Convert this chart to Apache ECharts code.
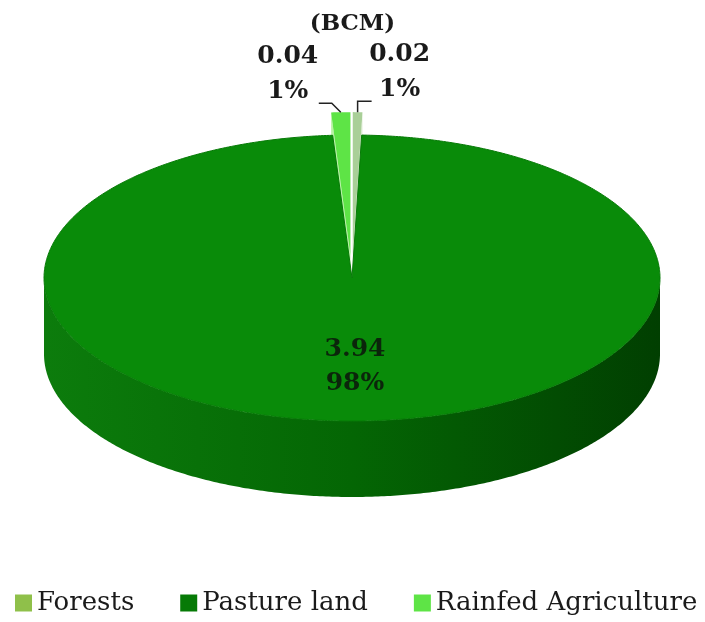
<!DOCTYPE html>
<html>
<head>
<meta charset="utf-8">
<script src="https://cdn.jsdelivr.net/npm/echarts@6/dist/echarts.min.js"></script>
<style>
html,body{margin:0;padding:0;background:#fff;}
#chart{width:705px;height:622px;}
</style>
</head>
<body>
<div id="chart"></div>
<script>
// data
var categories = ['Forests', 'Pasture land', 'Rainfed Agriculture'];
var values = [0.02, 3.94, 0.04];
var percents = [1, 98, 1];
var exploded = [true, false, true];

// look of the fake 3d pie
var cx = 352, cy = 278, rx = 308, ry = 143, depth = 76, explode = 0.16;
var topColors = ['#a9cf98', '#098b09', '#5ee446'];
var wallColors = ['#dcebd2', '#066c06', '#b9f3a6'];
var legendColors = ['#8fc04a', '#067a06', '#5ee446'];
var font = '"DejaVu Serif", serif';

var total = 0;
for (var k = 0; k < values.length; k++) total += values[k];

function startOf(i) {
	var s = 0;
	for (var j = 0; j < i; j++) s += values[j];
	return s / total * Math.PI * 2;
}

function makeRender(i) {
	return function (params, api) {
		var v = api.value(0);
		var a0 = startOf(i), a1 = a0 + v / total * Math.PI * 2;
		var mid = (a0 + a1) / 2;
		var ox = exploded[i] ? Math.sin(mid) * explode * rx : 0;
		var oy = exploded[i] ? -Math.cos(mid) * explode * ry : 0;
		function pt(t, dy, f) {
			f = f == undefined ? 1 : f;
			return [cx + ox + f * rx * Math.sin(t), cy + oy - f * ry * Math.cos(t) + (dy || 0)];
		}
		var apex = [cx + ox, cy + oy];
		var kids = [];
		var steps = Math.max(2, Math.ceil((a1 - a0) / 0.01));
		var arc = [];
		for (var s = 0; s <= steps; s++) arc.push(a0 + (a1 - a0) * s / steps);

		// side walls of the slivers
		if (exploded[i]) {
			[a0, a1].forEach(function (t) {
				kids.push({
					type: 'polygon',
					shape: {points: [apex, pt(t), pt(t, depth), [apex[0], apex[1] + depth]]},
					style: {fill: wallColors[i]}
				});
			});
		}
		// front rim
		var f0 = Math.max(a0, Math.PI / 2), f1 = Math.min(a1, Math.PI * 1.5);
		if (f1 > f0) {
			var rim = [], back = [];
			var n = Math.ceil((f1 - f0) / 0.01);
			for (var s2 = 0; s2 <= n; s2++) {
				var t = f0 + (f1 - f0) * s2 / n;
				rim.push(pt(t));
				back.unshift(pt(t, depth));
			}
			kids.push({
				type: 'polygon',
				shape: {points: rim.concat(back)},
				style: {
					fill: new echarts.graphic.LinearGradient(0, 0, 1, 0, [
						{offset: 0, color: '#0c7c0c'},
						{offset: 0.5, color: '#046604'},
						{offset: 1, color: '#013f01'}
					])
				}
			});
		}
		// top face
		var topPts = [apex];
		arc.forEach(function (t) { topPts.push(pt(t)); });
		kids.push({
			type: 'polygon',
			shape: {points: topPts},
			style: {fill: topColors[i], stroke: exploded[i] ? null : '#077a07', lineWidth: 1}
		});

		var txt = v.toFixed(2) + '\n' + percents[i] + '%';
		var tstyle = {
			text: txt, font: 'bold 25px ' + font, fill: '#1a1a1a',
			align: 'center', textAlign: 'center', verticalAlign: 'middle', textVerticalAlign: 'middle',
			lineHeight: 35
		};
		if (exploded[i]) {
			var o = pt(mid);
			var line, lx, ly;
			if (Math.sin(mid) < 0) {
				line = [o, [o[0] - 9, o[1] - 9], [o[0] - 22, o[1] - 9]];
				lx = o[0] - 53; ly = o[1] - 38;
			} else {
				line = [o, [o[0], o[1] - 11], [o[0] + 14, o[1] - 11]];
				lx = o[0] + 42; ly = o[1] - 40;
			}
			kids.push({type: 'polyline', shape: {points: line}, style: {stroke: '#222', lineWidth: 1.5, fill: null}});
			tstyle.x = lx; tstyle.y = ly;
		} else {
			var c = pt(mid, 0, 0.62);
			tstyle.x = c[0]; tstyle.y = c[1];
			tstyle.lineHeight = 34;
			tstyle.fill = '#0b250b';
		}
		kids.push({type: 'text', style: tstyle});
		return {type: 'group', children: kids};
	};
}

// back slivers first, the big slice on top
var drawOrder = [0, 2, 1];
var series = drawOrder.map(function (i) {
	return {
		type: 'custom',
		name: categories[i],
		coordinateSystem: 'none',
		itemStyle: {color: legendColors[i]},
		data: [[values[i]]],
		renderItem: makeRender(i),
		silent: true
	};
});

var myChart = echarts.init(document.getElementById('chart'));
myChart.setOption({
	animation: false,
	title: {
		text: '(BCM)',
		left: 'center',
		top: 8,
		textStyle: {fontFamily: font, fontWeight: 'bold', fontSize: 23, color: '#1a1a1a'}
	},
	legend: {
		data: categories,
		left: 10,
		right: 0,
		top: 585,
		icon: 'rect',
		itemWidth: 17,
		itemHeight: 17,
		itemGap: 46,
		textStyle: {fontFamily: font, fontSize: 26, color: '#1a1a1a'}
	},
	series: series
});
</script>
</body>
</html>
